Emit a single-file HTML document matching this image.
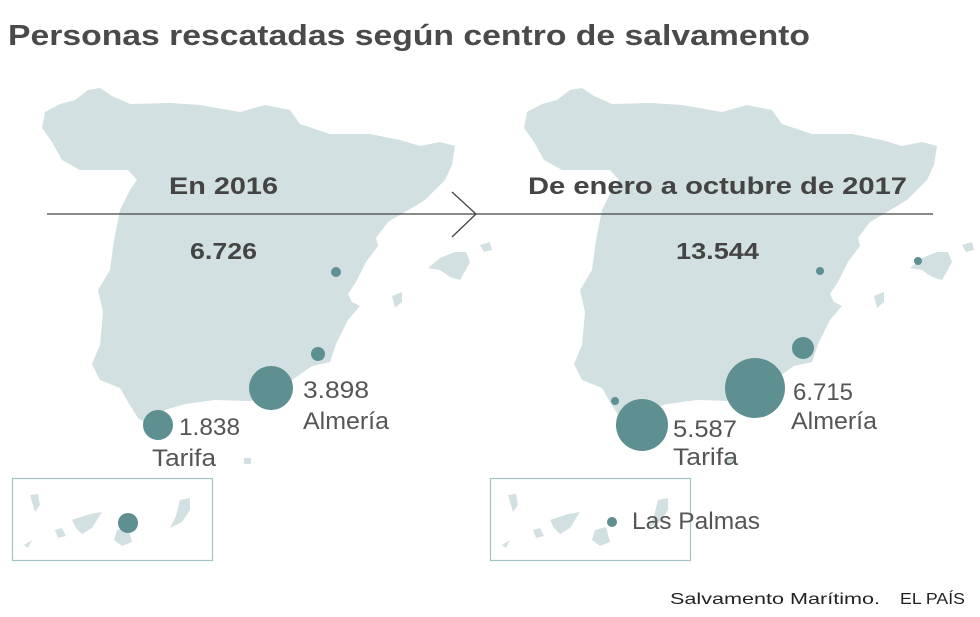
<!DOCTYPE html>
<html><head><meta charset="utf-8"><style>
html,body{margin:0;padding:0;background:#fff;}
body{width:980px;height:617px;overflow:hidden;}
svg{display:block;font-family:"Liberation Sans",sans-serif;}
</style></head><body>
<svg width="980" height="617" viewBox="0 0 980 617">
<defs>
<g id="spain" fill="#d3e0e1">
<path d="M45,112 L60,104 L75,100 L88,90 L100,88 L112,96 L130,104 L170,103 L200,105 L240,112 L265,105 L290,110 L300,124 L330,134 L370,134 L400,140 L420,146 L440,142 L455,146 L452,165 L445,180 L425,200 L405,212 L388,222 L376,238 L378,246 L366,262 L356,282 L348,294 L352,302 L360,306 L348,320 L336,344 L330,362 L312,366 L292,380 L270,398 L250,401 L215,400 L185,404 L165,410 L150,426 L138,418 L128,402 L120,388 L100,380 L92,364 L100,345 L103,312 L98,290 L110,270 L114,240 L120,210 L130,190 L137,180 L128,170 L110,170 L95,170 L80,170 L62,160 L52,142 L42,128 Z"/>
<path d="M428,268 L440,258 L455,252 L466,252 L470,262 L460,280 L450,277 L440,270 Z"/>
<path d="M480,245 L490,242 L492,250 L484,252 Z"/>
<path d="M392,296 L402,292 L402,302 L395,308 Z"/>
<rect x="244" y="458" width="7" height="6"/>
</g>
<g id="canary" fill="#d3e0e1">
<path d="M30,495 L38,494 L40,505 L35,512 Z"/>
<path d="M55,530 L62,528 L66,536 L58,538 Z"/>
<path d="M72,520 L90,514 L102,512 L92,528 L82,534 L76,528 Z"/>
<path d="M117,530 L128,527 L132,542 L122,546 L114,540 Z"/>
<path d="M180,500 L190,498 L190,510 L182,522 L170,528 L176,516 Z"/>
<path d="M24,545 L32,540 L28,548 Z"/>
</g>
</defs>
<text x="8" y="45" font-size="29" font-weight="bold" fill="#4a4a4a" textLength="802" lengthAdjust="spacingAndGlyphs">Personas rescatadas según centro de salvamento</text>

<use href="#spain"/>
<use href="#spain" transform="translate(482,0)"/>

<line x1="47" y1="214" x2="933" y2="214" stroke="#444" stroke-width="1.3"/>
<polyline points="452,192 476,214 452,237" fill="none" stroke="#444" stroke-width="1.3"/>

<g font-weight="bold" fill="#444">
<text x="169" y="194" font-size="24" textLength="109" lengthAdjust="spacingAndGlyphs">En 2016</text>
<text x="190" y="259" font-size="23" textLength="67" lengthAdjust="spacingAndGlyphs">6.726</text>
<text x="528" y="194" font-size="24" textLength="379" lengthAdjust="spacingAndGlyphs">De enero a octubre de 2017</text>
<text x="676" y="259" font-size="23" textLength="83" lengthAdjust="spacingAndGlyphs">13.544</text>
</g>

<rect x="12.5" y="478.5" width="200" height="82" fill="none" stroke="#a5c3c4" stroke-width="1.2"/>
<rect x="490.5" y="478.5" width="200" height="82" fill="none" stroke="#a5c3c4" stroke-width="1.2"/>
<use href="#canary"/>
<use href="#canary" transform="translate(478,0)"/>

<g fill="#5e8f91">
<circle cx="336" cy="272" r="5"/>
<circle cx="318" cy="354" r="7"/>
<circle cx="271" cy="388" r="22"/>
<circle cx="158" cy="425" r="15"/>
<circle cx="128" cy="523" r="10"/>
<circle cx="820" cy="271" r="4"/>
<circle cx="918" cy="261" r="4"/>
<circle cx="803" cy="348" r="11"/>
<circle cx="755" cy="388" r="30"/>
<circle cx="642" cy="425" r="26"/>
<circle cx="615" cy="401" r="4"/>
<circle cx="612" cy="522" r="5"/>
</g>

<g font-size="24" fill="#555" lengthAdjust="spacingAndGlyphs">
<text x="303" y="398" textLength="66" lengthAdjust="spacingAndGlyphs">3.898</text>
<text x="303" y="429" textLength="86" lengthAdjust="spacingAndGlyphs">Almería</text>
<text x="179" y="435" textLength="61" lengthAdjust="spacingAndGlyphs">1.838</text>
<text x="152" y="466" textLength="64" lengthAdjust="spacingAndGlyphs">Tarifa</text>
<text x="793" y="400" textLength="60" lengthAdjust="spacingAndGlyphs">6.715</text>
<text x="791" y="429" textLength="86" lengthAdjust="spacingAndGlyphs">Almería</text>
<text x="673" y="437" textLength="64" lengthAdjust="spacingAndGlyphs">5.587</text>
<text x="673" y="465" textLength="65" lengthAdjust="spacingAndGlyphs">Tarifa</text>
<text x="632" y="529" textLength="128" lengthAdjust="spacingAndGlyphs">Las Palmas</text>
</g>
<text x="670" y="604" font-size="16" fill="#222" textLength="210" lengthAdjust="spacingAndGlyphs">Salvamento Marítimo.</text>
<text x="900" y="604" font-size="16" fill="#222" textLength="65" lengthAdjust="spacingAndGlyphs">EL PAÍS</text>
</svg>
</body></html>
